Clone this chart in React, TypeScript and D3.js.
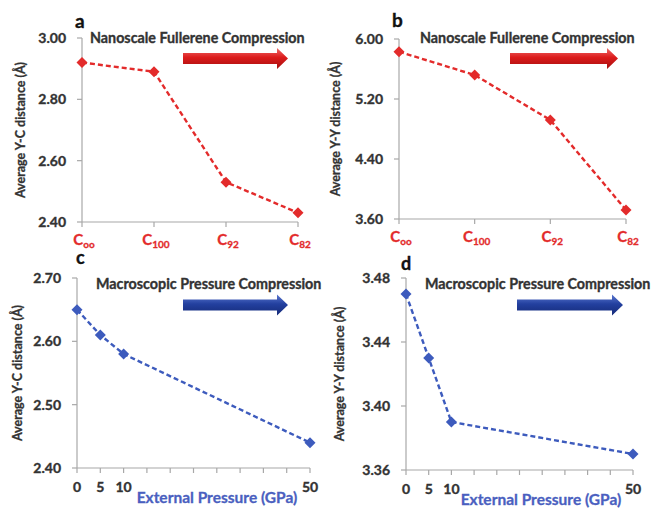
import React from "react";
import * as d3 from "d3";

const categories = ["∞", "100", "92", "82"];
const ycNano = [2.92, 2.89, 2.53, 2.43];
const yyNano = [5.83, 5.52, 4.92, 3.72];
const pressures = [0, 5, 10, 50];
const ycPressure = [2.65, 2.61, 2.58, 2.44];
const yyPressure = [3.47, 3.43, 3.39, 3.37];

const ycNanoTicks = [2.4, 2.6, 2.8, 3.0];
const yyNanoTicks = [3.6, 4.4, 5.2, 6.0];
const ycPressTicks = [2.4, 2.5, 2.6, 2.7];
const yyPressTicks = [3.36, 3.4, 3.44, 3.48];
const pressureLabelTicks = [0, 5, 10, 50];
const pressureMinorTicks = d3.range(0, 55, 5);

const FONT = "Lato, 'Open Sans', sans-serif";
const AXIS = "#a8a8a8";
const TXT = "#333333";
const RED = "#e32b2b";
const BLUE = "#3d5bbd";
const BLUE_TXT = "#4a5fc0";

function T(props: any) {
  const { fill = TXT, sw = 0.35, ...rest } = props;
  return <text fontFamily={FONT} fontWeight={700} fill={fill} stroke={fill} strokeWidth={sw} {...rest} />;
}

function Arrow({ x0, x1, cy, grad }: { x0: number; x1: number; cy: number; grad: string }) {
  const headLen = 11;
  const sh = 5.5;
  const hh = 10.5;
  const pts = [
    [x0, cy - sh], [x1 - headLen, cy - sh], [x1 - headLen, cy - hh], [x1, cy],
    [x1 - headLen, cy + hh], [x1 - headLen, cy + sh], [x0, cy + sh],
  ];
  return <polygon points={pts.map((p) => p.join(",")).join(" ")} fill={`url(#${grad})`} />;
}

function Diamond({ x, y, color }: { x: number; y: number; color: string }) {
  const r = 5.5;
  return <path d={`M${x},${y - r}L${x + r},${y}L${x},${y + r}L${x - r},${y}Z`} fill={color} />;
}

function YAxis({ y, ticks, x0, fmt, titleX, title }: any) {
  const [r0, r1] = y.range();
  const mid = (r0 + r1) / 2;
  return (
    <g>
      <line x1={x0} x2={x0} y1={r0} y2={r1} stroke={AXIS} strokeWidth={1.2} />
      {ticks.map((t: number) => (
        <g key={t}>
          <line x1={x0 - 5} x2={x0} y1={y(t)} y2={y(t)} stroke={AXIS} strokeWidth={1.2} />
          <T x={x0 - 16} y={y(t)} dy="0.35em" textAnchor="end" fontSize={14}>
            {fmt(t)}
          </T>
        </g>
      ))}
      <T transform={`translate(${titleX},${mid}) rotate(-90)`} textAnchor="middle" dy="0.35em" fontSize={12.5} sw={0.3}>
        {title}
      </T>
    </g>
  );
}

function NanoPanel({ values, xr, yDomain, yr, ticks, fmt, letter, letterPos, titleX, yTitle, titleStart, arrowX, gradId }: any) {
  const x = d3.scalePoint<string>().domain(categories).range(xr);
  const y = d3.scaleLinear().domain(yDomain).range(yr);
  const line = d3.line<number>().x((_, i) => x(categories[i])!).y((v) => y(v));
  const yb = yr[0];
  return (
    <g>
      <YAxis y={y} ticks={ticks} x0={xr[0]} fmt={fmt} titleX={titleX} title={yTitle} />
      <line x1={xr[0]} x2={xr[1]} y1={yb} y2={yb} stroke={AXIS} strokeWidth={1.2} />
      {categories.map((c) => (
        <g key={c}>
          <line x1={x(c)} x2={x(c)} y1={yb} y2={yb + 5} stroke={AXIS} strokeWidth={1.2} />
          <T x={x(c)! + 2} y={yb + 23} textAnchor="middle" fill={RED} fontSize={15} sw={0.3}>
            C<tspan fontSize={10} dy={3}>{c === "∞" ? "oo" : c}</tspan>
          </T>
        </g>
      ))}
      <path d={line(values)!} fill="none" stroke={RED} strokeWidth={2.4} strokeDasharray="5,3" />
      {values.map((v: number, i: number) => (
        <Diamond key={i} x={x(categories[i])!} y={y(v)} color={RED} />
      ))}
      <T x={letterPos[0]} y={letterPos[1]} fontSize={19} fill="#111">{letter}</T>
      <T x={titleStart} y={43} fontSize={14.3}>Nanoscale Fullerene Compression</T>
      <Arrow x0={arrowX[0]} x1={arrowX[1]} cy={58.5} grad={gradId} />
    </g>
  );
}

function PressurePanel({ values, xr, yDomain, yr, ticks, fmt, letter, letterPos, titleX, yTitle, titleStart, arrowX, gradId, xTitleX }: any) {
  const x = d3.scaleLinear().domain([0, 50]).range(xr);
  const y = d3.scaleLinear().domain(yDomain).range(yr);
  const line = d3.line<number>().x((_, i) => x(pressures[i])).y((v) => y(v));
  const yb = yr[0];
  return (
    <g>
      <YAxis y={y} ticks={ticks} x0={xr[0]} fmt={fmt} titleX={titleX} title={yTitle} />
      <line x1={xr[0]} x2={xr[1]} y1={yb} y2={yb} stroke={AXIS} strokeWidth={1.2} />
      {pressureMinorTicks.map((t) => (
        <line key={t} x1={x(t)} x2={x(t)} y1={yb} y2={yb + 5} stroke={AXIS} strokeWidth={1.2} />
      ))}
      {pressureLabelTicks.map((t) => (
        <T key={t} x={x(t)} y={yb + 24} textAnchor="middle" fontSize={14}>{t}</T>
      ))}
      <T x={xTitleX} y={yb + 35} textAnchor="middle" fontSize={15.5} fill={BLUE_TXT} sw={0.3}>External Pressure (GPa)</T>
      <path d={line(values)!} fill="none" stroke={BLUE} strokeWidth={2.4} strokeDasharray="5,3" />
      {values.map((v: number, i: number) => (
        <Diamond key={i} x={x(pressures[i])} y={y(v)} color={BLUE} />
      ))}
      <T x={letterPos[0]} y={letterPos[1]} fontSize={18} fill="#111">{letter}</T>
      <T x={titleStart} y={289} fontSize={14.3}>Macroscopic Pressure Compression</T>
      <Arrow x0={arrowX[0]} x1={arrowX[1]} cy={305} grad={gradId} />
    </g>
  );
}

export default function App() {
  const f2 = (v: number) => v.toFixed(2);
  return (
    <svg width={654} height={508} style={{ position: "absolute", left: 0, top: 0, background: "#fff" }}>
      <defs>
        <linearGradient id="gRed" x1="0" y1="0" x2="0" y2="1">
          <stop offset="0%" stopColor="#ef6a6a" />
          <stop offset="45%" stopColor="#dc1c1c" />
          <stop offset="100%" stopColor="#a50e0e" />
        </linearGradient>
        <linearGradient id="gBlue" x1="0" y1="0" x2="0" y2="1">
          <stop offset="0%" stopColor="#5b78d0" />
          <stop offset="45%" stopColor="#23409f" />
          <stop offset="100%" stopColor="#152a78" />
        </linearGradient>
      </defs>
      <NanoPanel
        values={ycNano}
        xr={[82, 298]}
        yDomain={[2.4, 3.0]}
        yr={[222, 38]}
        ticks={ycNanoTicks}
        fmt={f2}
        letter="a"
        letterPos={[75, 28]}
        titleX={21}
        yTitle="Average Y-C distance (Å)"
        titleStart={90}
        arrowX={[183, 288]}
        gradId="gRed"
      />
      <NanoPanel
        values={yyNano}
        xr={[399, 626]}
        yDomain={[3.6, 6.0]}
        yr={[219, 39]}
        ticks={yyNanoTicks}
        fmt={f2}
        letter="b"
        letterPos={[392, 27]}
        titleX={336}
        yTitle="Average Y-Y distance (Å)"
        titleStart={420}
        arrowX={[510, 618]}
        gradId="gRed"
      />
      <PressurePanel
        values={ycPressure}
        xr={[77, 310]}
        yDomain={[2.4, 2.7]}
        yr={[468, 278]}
        ticks={ycPressTicks}
        fmt={f2}
        letter="c"
        letterPos={[76, 264]}
        titleX={18}
        yTitle="Average Y-C distance (Å)"
        titleStart={96}
        arrowX={[183, 288]}
        gradId="gBlue"
        xTitleX={217}
      />
      <PressurePanel
        values={yyPressure}
        xr={[406, 633]}
        yDomain={[3.36, 3.48]}
        yr={[470, 278]}
        ticks={yyPressTicks}
        fmt={f2}
        letter="d"
        letterPos={[401, 270]}
        titleX={340}
        yTitle="Average Y-Y distance (Å)"
        titleStart={425}
        arrowX={[517, 623]}
        gradId="gBlue"
        xTitleX={541}
      />
    </svg>
  );
}
